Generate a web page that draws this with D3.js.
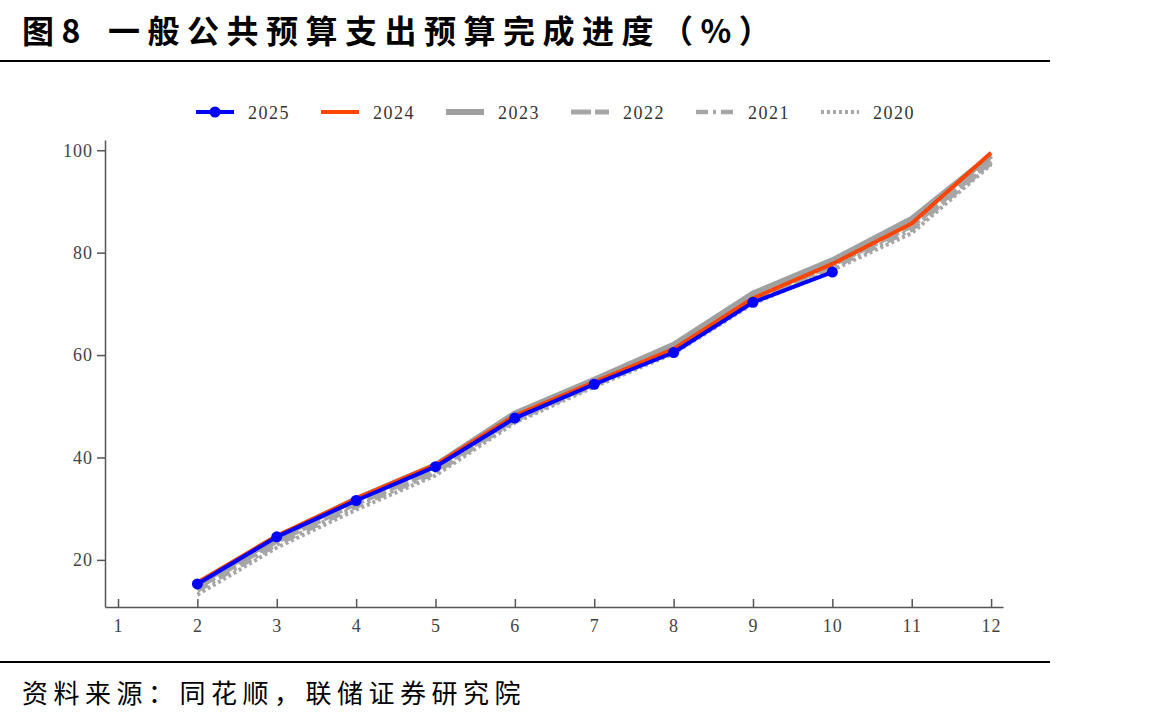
<!DOCTYPE html>
<html>
<head>
<meta charset="utf-8">
<script src="https://cdn.jsdelivr.net/npm/d3@7"></script>
<style>
  body { margin: 0; background: #fff; }
  svg { display: block; }
</style>
</head>
<body>
<div id="chart"></div>
<script>
var months = [2, 3, 4, 5, 6, 7, 8, 9, 10, 11, 12];
var xTicks = [1, 2, 3, 4, 5, 6, 7, 8, 9, 10, 11, 12];
var yTicks = [20, 40, 60, 80, 100];

var v2025 = [15.3, 24.5, 31.6, 38.2, 47.7, 54.3, 60.5, 70.3, 76.2];
var v2024 = [15.6, 24.7, 32.0, 38.6, 48.2, 54.7, 61.2, 71.1, 77.8, 85.7, 99.5];
var v2023 = [15.2, 24.3, 31.9, 38.5, 48.6, 55.2, 62.0, 72.0, 78.5, 86.6, 99.0];
var v2022 = [14.6, 23.6, 31.0, 37.5, 47.6, 54.4, 61.0, 70.8, 77.6, 85.2, 97.8];
var v2021 = [14.0, 23.0, 30.4, 37.0, 47.2, 54.1, 60.7, 70.4, 77.0, 84.5, 97.5];
var v2020 = [13.2, 22.4, 29.8, 36.5, 46.8, 53.8, 60.3, 70.0, 76.6, 83.8, 97.2];

var seriesNames = ["2025", "2024", "2023", "2022", "2021", "2020"];
var seriesValues = [v2025, v2024, v2023, v2022, v2021, v2020];

var styles = {
  "2025": { color: "#0000ff", width: 4, dash: null, dot: true },
  "2024": { color: "#ff4500", width: 4, dash: null },
  "2023": { color: "#a0a0a0", width: 6, dash: null },
  "2022": { color: "#a6a6a6", width: 5, dash: "20,4" },
  "2021": { color: "#a6a6a6", width: 4.5, dash: "12,5,3,5" },
  "2020": { color: "#a6a6a6", width: 4, dash: "3,3" }
};

var W = 1170, H = 724;
var svg = d3.select("#chart").append("svg")
  .attr("width", W).attr("height", H);

// title + rules
var title = svg.append("text")
  .attr("x", 22).attr("y", 43)
  .style("font-family", "'Noto Sans CJK SC', sans-serif")
  .style("font-weight", "700")
  .style("font-size", "32px")
  .style("letter-spacing", "7.5px")
  .style("fill", "#000");
title.append("tspan").text("图8");
title.append("tspan").attr("x", 108).text("一般公共预算支出预算完成进度（%）");

svg.append("line").attr("x1", 0).attr("x2", 1050).attr("y1", 61).attr("y2", 61)
  .attr("stroke", "#000").attr("stroke-width", 2);
svg.append("line").attr("x1", 0).attr("x2", 1050).attr("y1", 662).attr("y2", 662)
  .attr("stroke", "#000").attr("stroke-width", 2);

svg.append("text")
  .attr("x", 22).attr("y", 703)
  .style("font-family", "'Noto Sans CJK SC', sans-serif")
  .style("font-size", "26px")
  .style("letter-spacing", "5.5px")
  .style("fill", "#000")
  .text("资料来源：同花顺，联储证券研究院");

// scales
var x = d3.scaleLinear().domain([0.836, 12.15]).range([105, 1003]);
var y = d3.scaleLinear().domain([10.8, 102]).range([607, 140]);

var axisColor = "#555";
var tickFont = "'Liberation Serif', 'Times New Roman', serif";

// y axis
var gy = svg.append("g").attr("transform", "translate(105,0)")
  .call(d3.axisLeft(y).tickValues(yTicks).tickSize(8).tickPadding(4).tickSizeOuter(0));
gy.select(".domain").attr("stroke", axisColor).attr("stroke-width", 1.5);
gy.selectAll(".tick line").attr("stroke", axisColor).attr("stroke-width", 1.5);
gy.selectAll(".tick text").style("font-family", tickFont).style("font-size", "18px")
  .style("letter-spacing", "1px").style("fill", "#444");

// x axis (ticks pointing up)
var gx = svg.append("g").attr("transform", "translate(0,607)")
  .call(d3.axisBottom(x).tickValues(xTicks).tickSize(-8).tickPadding(12).tickSizeOuter(0)
    .tickFormat(d3.format("d")));
gx.select(".domain").attr("stroke", axisColor).attr("stroke-width", 1.5);
gx.selectAll(".tick line").attr("stroke", axisColor).attr("stroke-width", 1.5);
gx.selectAll(".tick text").style("font-family", tickFont).style("font-size", "18px")
  .style("letter-spacing", "1px").style("fill", "#444");

// lines, drawn from oldest to newest so 2025 is on top
var line = d3.line()
  .x(function(d) { return x(d.m); })
  .y(function(d) { return y(d.v); });

for (var i = seriesNames.length - 1; i >= 0; i--) {
  var name = seriesNames[i];
  var st = styles[name];
  var pts = seriesValues[i].map(function(v, j) { return { m: months[j], v: v }; });
  var path = svg.append("path")
    .datum(pts)
    .attr("fill", "none")
    .attr("stroke", st.color)
    .attr("stroke-width", st.width)
    .attr("stroke-linejoin", "round")
    .attr("d", line);
  if (st.dash) path.attr("stroke-dasharray", st.dash);
  if (st.dot) {
    svg.selectAll(".dot" + name)
      .data(pts).enter().append("circle")
      .attr("cx", function(d) { return x(d.m); })
      .attr("cy", function(d) { return y(d.v); })
      .attr("r", 5.5)
      .attr("fill", st.color);
  }
}

// legend
var legend = svg.append("g").attr("transform", "translate(196,112)");
seriesNames.forEach(function(name, i) {
  var st = styles[name];
  var g = legend.append("g").attr("transform", "translate(" + (i * 125) + ",0)");
  var l = g.append("line").attr("x1", 0).attr("x2", 38).attr("y1", 0).attr("y2", 0)
    .attr("stroke", st.color).attr("stroke-width", st.width);
  if (st.dash) l.attr("stroke-dasharray", st.dash);
  if (st.dot) g.append("circle").attr("cx", 19).attr("cy", 0).attr("r", 5.5).attr("fill", st.color);
  g.append("text").attr("x", 52).attr("y", 7)
    .style("font-family", tickFont)
    .style("font-size", "18px")
    .style("letter-spacing", "1.5px")
    .style("fill", "#333")
    .text(name);
});
</script>
</body>
</html>
